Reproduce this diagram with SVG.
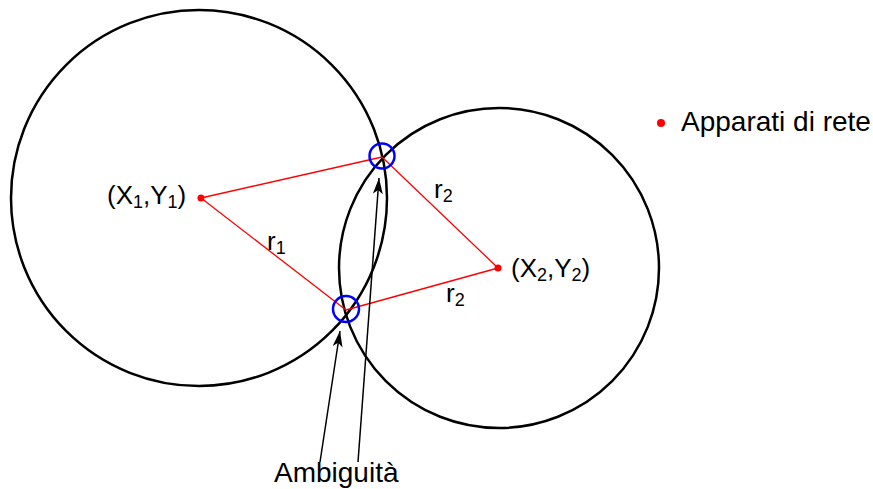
<svg xmlns="http://www.w3.org/2000/svg" width="873" height="489" viewBox="0 0 873 489">
<style>
.c{fill:none;stroke:#000;stroke-width:2.5}
.r{fill:none;stroke:#f00;stroke-width:1.3}
.b{fill:none;stroke:#00f;stroke-width:2.5}
.a{fill:none;stroke:#000;stroke-width:1.5}
.t{font-family:"Liberation Sans",Arial,sans-serif;font-size:26px;fill:#000}
.L{font-size:28px}
.s{font-size:18px}
.d{fill:#f00}
</style>
<defs>
<marker id="ah" viewBox="0 0 16 10" refX="16" refY="5" markerWidth="16" markerHeight="10" markerUnits="userSpaceOnUse" orient="auto">
<path d="M0,0 L16,5 L0,10 L4,5 Z" fill="#000"/>
</marker>
</defs>
<g id="circle1"><circle class="c" cx="199" cy="198" r="188"/></g>
<g id="circle2"><circle class="c" cx="499" cy="268" r="160"/></g>
<g id="connectors">
<line class="r" x1="201" y1="198" x2="382" y2="157"/>
<line class="r" x1="201" y1="198" x2="346" y2="310"/>
<line class="r" x1="498" y1="268" x2="382" y2="157"/>
<line class="r" x1="498" y1="268" x2="346" y2="310"/>
<line class="a" x1="320" y1="462" x2="340" y2="331" marker-end="url(#ah)"/>
<line class="a" x1="358" y1="462" x2="379" y2="178" marker-end="url(#ah)"/>
</g>
<g id="p1"><circle class="d" cx="201" cy="198" r="3.5"/><text class="t" x="107" y="204">(X<tspan class="s" dy="4">1</tspan><tspan dy="-4">,Y</tspan><tspan class="s" dy="4">1</tspan><tspan dy="-4">)</tspan></text></g>
<g id="p2"><circle class="d" cx="498" cy="268" r="3.5"/><text class="t" x="511" y="277">(X<tspan class="s" dy="4">2</tspan><tspan dy="-4">,Y</tspan><tspan class="s" dy="4">2</tspan><tspan dy="-4">)</tspan></text></g>
<g id="amb1"><circle class="b" cx="382" cy="156" r="12.5"/></g>
<g id="amb2"><circle class="b" cx="346" cy="309" r="13"/></g>
<g id="labels">
<text class="t" x="267" y="250">r<tspan class="s" dy="4">1</tspan></text>
<text class="t" x="434" y="198">r<tspan class="s" dy="4">2</tspan></text>
<text class="t" x="446" y="302">r<tspan class="s" dy="4">2</tspan></text>
<text class="t L" x="274" y="482">Ambiguità</text>
</g>
<g id="legend"><circle class="d" cx="661" cy="123" r="4"/><text class="t L" x="681" y="131">Apparati di rete</text></g>
</svg>
